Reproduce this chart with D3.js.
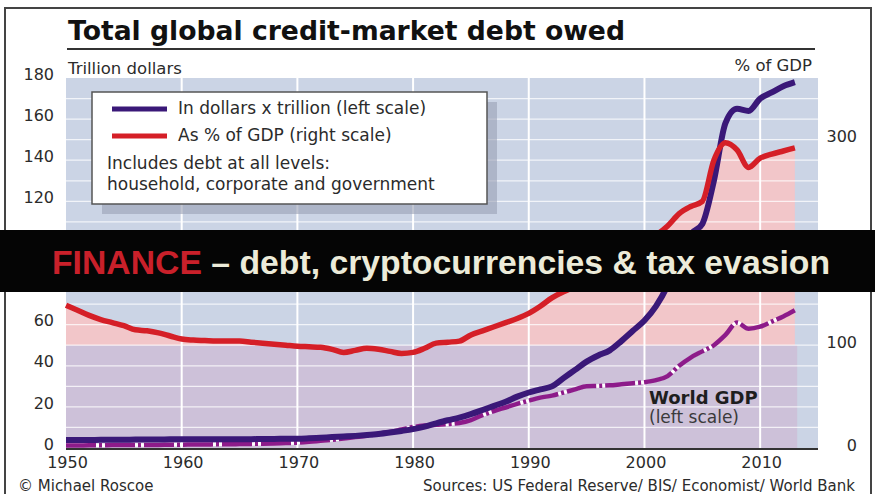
<!DOCTYPE html>
<html>
<head>
<meta charset="utf-8">
<script src="https://cdn.jsdelivr.net/npm/d3@7/dist/d3.min.js"></script>
<style>
  html, body { margin: 0; padding: 0; background: #fff; }
  svg { display: block; font-family: "DejaVu Sans", sans-serif; }
</style>
</head>
<body>
<svg id="chart" width="875" height="494"></svg>
<script>
/* Data */

var years = d3.range(1950, 2014);

// Total credit-market debt, trillion dollars (left scale)
var debtDollars = [
  3.9, 3.9, 3.9, 4.0, 4.0, 4.0, 4.1, 4.1, 4.1, 4.2,
  4.2, 4.2, 4.2, 4.3, 4.3, 4.3, 4.3, 4.4, 4.4, 4.5,
  4.5, 4.7, 5.0, 5.3, 5.6, 5.9, 6.3, 6.8, 7.5, 8.3,
  9.2, 10.4, 12.0, 13.5, 14.8, 16.5, 18.5, 20.5, 22.5, 25.0,
  27.0, 28.5, 30.0, 34.0, 38.0, 42.0, 45.0, 47.5, 52.0, 57.0,
  62.0, 69.0, 79.0, 92.0, 104.0, 109.0, 130.0, 158.0, 165.0, 164.0,
  170.0, 173.0, 176.0, 178.0
];

// Debt as % of world GDP (right scale)
var debtPctGdp = [
  139, 134, 129, 125, 122, 119, 115, 114, 112, 109,
  106, 105, 104.5, 104, 104, 104, 103, 102, 101, 100,
  99, 98.5, 98, 96, 93, 95, 97, 96, 94, 92,
  93, 97, 102, 103, 104, 110, 114, 118, 122, 126,
  131, 138, 146, 152, 157, 163, 170, 178, 186, 194,
  200, 207, 216, 228, 235, 240, 280, 297, 290, 273,
  282, 286, 289, 292
];

// World GDP, trillion dollars (left scale)
var worldGdp = [
  1.2, 1.2, 1.3, 1.3, 1.4, 1.4, 1.4, 1.5, 1.5, 1.6,
  1.6, 1.7, 1.7, 1.8, 1.8, 1.9, 2.0, 2.1, 2.2, 2.4,
  2.6, 3.0, 3.5, 4.0, 4.6, 5.3, 6.0, 6.8, 7.8, 9.0,
  10.2, 10.9, 11.3, 11.6, 12.2, 13.6, 16.0, 18.0, 19.7, 21.5,
  23.0, 24.5, 25.5, 27.0, 28.5, 30.0, 30.2, 30.5, 31.0, 31.5,
  32.0, 33.0, 35.0, 40.0, 44.0, 47.0, 50.0, 55.0, 61.0, 58.0,
  59.0, 61.5, 64.0, 67.0
];

var leftTicks = [0, 20, 40, 60, 80, 100, 120, 140, 160, 180];
var rightTicks = [0, 100, 200, 300];
var yearTicks = [1950, 1960, 1970, 1980, 1990, 2000, 2010];

var legendItems = [
  { label: "In dollars x trillion (left scale)", color: "#3a1878" },
  { label: "As % of GDP (right scale)", color: "#d51f27" }
];
var legendNote = ["Includes debt at all levels:", "household, corporate and government"];

/* Layout */

var plot = { left: 66, right: 818, top: 78, bottom: 448 };

var colors = {
  bg: "#cbd4e5",
  pink: "#f2c6c9",
  lavender: "#cdc1d9",
  red: "#d51f27",
  indigo: "#3a1878",
  magenta: "#8d1b8a",
  text: "#2b2b2b"
};

var svg = d3.select("#chart");

var x = d3.scaleLinear().domain([1950, 2015]).range([plot.left, plot.right]);
var yL = d3.scaleLinear().domain([0, 180]).range([plot.bottom, plot.top]);
var yR = d3.scaleLinear().domain([0, 360]).range([plot.bottom, plot.top]);

// outer frame
svg.append("rect")
  .attr("x", 5).attr("y", 8)
  .attr("width", 866).attr("height", 510)
  .attr("fill", "#fff")
  .attr("stroke", "#444").attr("stroke-width", 2);

// title
svg.append("text")
  .attr("x", 68).attr("y", 40)
  .attr("font-size", 27).attr("font-weight", "bold")
  .attr("fill", "#111")
  .attr("textLength", 557).attr("lengthAdjust", "spacingAndGlyphs")
  .text("Total global credit-market debt owed");

svg.append("line")
  .attr("x1", 67).attr("x2", 815)
  .attr("y1", 49).attr("y2", 49)
  .attr("stroke", "#333").attr("stroke-width", 2);

svg.append("text")
  .attr("x", 68).attr("y", 74)
  .attr("font-size", 16.5).attr("fill", colors.text)
  .text("Trillion dollars");

svg.append("text")
  .attr("x", 812).attr("y", 71)
  .attr("text-anchor", "end")
  .attr("font-size", 16.5).attr("fill", colors.text)
  .text("% of GDP");

/* Plot background and fills */

svg.append("rect")
  .attr("x", plot.left).attr("y", plot.top)
  .attr("width", plot.right - plot.left)
  .attr("height", plot.bottom - plot.top)
  .attr("fill", colors.bg);

var pctArea = d3.area()
  .x(function(d, i){ return x(years[i]); })
  .y0(yR(0))
  .y1(function(d){ return yR(d); });

svg.append("path")
  .datum(debtPctGdp)
  .attr("d", pctArea)
  .attr("fill", colors.pink);

// the part of debt that equals 100% of GDP
svg.append("rect")
  .attr("x", x(1950)).attr("y", yR(100))
  .attr("width", x(2013.2) - x(1950))
  .attr("height", yR(0) - yR(100))
  .attr("fill", colors.lavender);

// grid
svg.append("g")
  .selectAll("line")
  .data(d3.range(10, 180, 10))
  .enter().append("line")
  .attr("x1", plot.left).attr("x2", plot.right)
  .attr("y1", function(d){ return yL(d); })
  .attr("y2", function(d){ return yL(d); })
  .attr("stroke", "#fff").attr("stroke-opacity", 0.75)
  .attr("stroke-width", 1.3);

svg.append("g")
  .selectAll("line")
  .data(yearTicks.slice(1))
  .enter().append("line")
  .attr("x1", function(d){ return x(d); })
  .attr("x2", function(d){ return x(d); })
  .attr("y1", plot.top).attr("y2", plot.bottom)
  .attr("stroke", "#fff").attr("stroke-width", 2);

/* Lines */

function lineFor(scale){
  return d3.line()
    .x(function(d, i){ return x(years[i]); })
    .y(function(d){ return scale(d); })
    .curve(d3.curveMonotoneX);
}

// world GDP: dash-dot over a white underlay
svg.append("path")
  .datum(worldGdp)
  .attr("d", lineFor(yL))
  .attr("fill", "none")
  .attr("stroke", "#fff").attr("stroke-width", 3.5);

svg.append("path")
  .datum(worldGdp)
  .attr("d", lineFor(yL))
  .attr("fill", "none")
  .attr("stroke", colors.magenta).attr("stroke-width", 4.5)
  .attr("stroke-dasharray", "30,3,3,3");

svg.append("path")
  .datum(debtDollars)
  .attr("d", lineFor(yL))
  .attr("fill", "none")
  .attr("stroke", colors.indigo).attr("stroke-width", 6)
  .attr("stroke-linejoin", "round");

svg.append("path")
  .datum(debtPctGdp)
  .attr("d", lineFor(yR))
  .attr("fill", "none")
  .attr("stroke", colors.red).attr("stroke-width", 5.5)
  .attr("stroke-linejoin", "round");

// x axis line
svg.append("line")
  .attr("x1", plot.left).attr("x2", plot.right)
  .attr("y1", plot.bottom + 1).attr("y2", plot.bottom + 1)
  .attr("stroke", "#333").attr("stroke-width", 2);

/* Axes */

var leftAxis = d3.axisLeft(yL).tickValues(leftTicks).tickSize(0).tickPadding(12);
var gl = svg.append("g").attr("transform", "translate(" + plot.left + ",-4)").call(leftAxis);
gl.select(".domain").remove();
gl.selectAll("text").attr("font-size", 16).attr("fill", colors.text)
  .attr("font-family", "DejaVu Sans, sans-serif");

var rightAxis = d3.axisRight(yR).tickValues(rightTicks).tickSize(0).tickPadding(0);
var gr = svg.append("g").attr("transform", "translate(857,-3)").call(rightAxis);
gr.select(".domain").remove();
gr.selectAll("text").attr("font-size", 16).attr("fill", colors.text)
  .attr("text-anchor", "end")
  .attr("font-family", "DejaVu Sans, sans-serif");

var bottomAxis = d3.axisBottom(x).tickValues(yearTicks).tickSize(0).tickPadding(8).tickFormat(d3.format("d"));
var gb = svg.append("g").attr("transform", "translate(1," + (plot.bottom + 1) + ")").call(bottomAxis);
gb.select(".domain").remove();
gb.selectAll("text").attr("font-size", 16).attr("fill", colors.text)
  .attr("font-family", "DejaVu Sans, sans-serif");

/* Annotations */

svg.append("text")
  .attr("x", 649).attr("y", 404)
  .attr("font-size", 18).attr("font-weight", "bold").attr("fill", "#1e1e1e")
  .text("World GDP");

svg.append("text")
  .attr("x", 649).attr("y", 423)
  .attr("font-size", 17).attr("fill", "#3a3a3a")
  .text("(left scale)");

// legend box with shadow
svg.append("rect")
  .attr("x", 102).attr("y", 102)
  .attr("width", 395).attr("height", 112)
  .attr("fill", "#9aa0b4").attr("opacity", 0.6);

svg.append("rect")
  .attr("x", 92).attr("y", 92)
  .attr("width", 395).attr("height", 112)
  .attr("fill", "#fff")
  .attr("stroke", "#555").attr("stroke-width", 1.5);

var leg = svg.append("g")
  .selectAll("g")
  .data(legendItems)
  .enter().append("g")
  .attr("transform", function(d, i){ return "translate(0," + (109 + i * 27) + ")"; });

leg.append("line")
  .attr("x1", 112).attr("x2", 167)
  .attr("stroke", function(d){ return d.color; })
  .attr("stroke-width", 5);

leg.append("text")
  .attr("x", 178).attr("y", 5)
  .attr("font-size", 17).attr("fill", colors.text)
  .text(function(d){ return d.label; });

svg.append("g")
  .selectAll("text")
  .data(legendNote)
  .enter().append("text")
  .attr("x", 107)
  .attr("y", function(d, i){ return 169 + i * 21; })
  .attr("font-size", 17).attr("fill", colors.text)
  .text(function(d){ return d; });

/* Footer */

svg.append("text")
  .attr("x", 18).attr("y", 491)
  .attr("font-size", 15).attr("fill", colors.text)
  .text("\u00A9 Michael Roscoe");

svg.append("text")
  .attr("x", 855).attr("y", 491)
  .attr("text-anchor", "end")
  .attr("font-size", 15).attr("fill", colors.text)
  .text("Sources: US Federal Reserve/ BIS/ Economist/ World Bank");

/* Banner */

svg.append("rect")
  .attr("x", 0).attr("y", 230)
  .attr("width", 875).attr("height", 62)
  .attr("fill", "#050505");

var banner = svg.append("text")
  .attr("x", 52).attr("y", 274)
  .attr("font-family", "'Liberation Sans', Arial, sans-serif")
  .attr("font-weight", "bold")
  .attr("font-size", 33)
  .attr("textLength", 778).attr("lengthAdjust", "spacingAndGlyphs");

banner.append("tspan").attr("fill", "#c9202a").text("FINANCE");
banner.append("tspan").attr("fill", "#ecebd9").text(" \u2013 debt, cryptocurrencies & tax evasion");
</script>
</body>
</html>
